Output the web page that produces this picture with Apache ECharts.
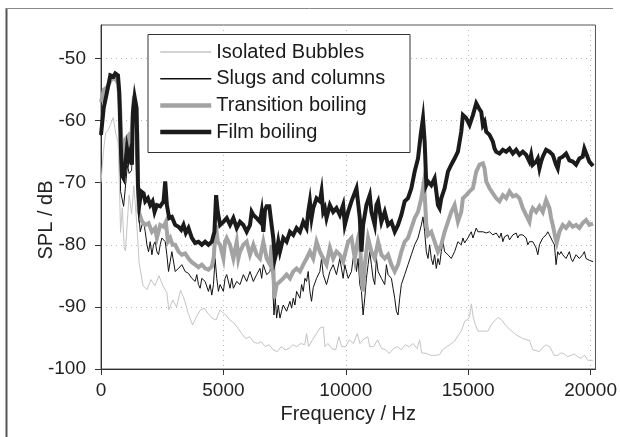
<!DOCTYPE html>
<html>
<head>
<meta charset="utf-8">
<script src="https://cdn.jsdelivr.net/npm/echarts@6/dist/echarts.min.js"></script>
<style>
html,body{margin:0;padding:0;background:#fff;}
#chart{width:620px;height:437px;}
</style>
</head>
<body>
<div id="chart"></div>
<script>
// ---- data (frequency in Hz, SPL in dB) ----
var xTicks = [0, 5000, 10000, 15000, 20000];
var yTicks = [-100, -90, -80, -70, -60, -50];
var seriesNames = ['Isolated Bubbles', 'Slugs and columns', 'Transition boiling', 'Film boiling'];

var isolatedBubbles = [[0,-70.0],[100,-65.0],[190,-62.0],[300,-61.5],[400,-60.5],[500,-59.5],[600,-62.0],[700,-63.5],[750,-70.0],[800,-78.0],[870,-74.0],[950,-80.5],[1000,-81.0],[1080,-76.0],[1150,-72.0],[1250,-75.0],[1340,-70.5],[1450,-76.0],[1560,-83.0],[1720,-86.6],[1880,-87.2],[2040,-85.6],[2200,-86.6],[2370,-85.0],[2530,-86.6],[2690,-87.7],[2770,-90.5],[2930,-88.9],[3090,-90.0],[3250,-87.3],[3410,-88.9],[3570,-91.1],[3740,-92.9],[3900,-91.6],[4060,-90.5],[4220,-90.2],[4380,-91.1],[4540,-91.8],[4700,-92.1],[4860,-90.5],[5100,-91.3],[5260,-92.1],[5430,-92.6],[5590,-93.4],[5750,-94.3],[5910,-95.1],[6070,-94.8],[6230,-95.6],[6390,-95.9],[6550,-95.6],[6710,-96.4],[6870,-96.1],[7030,-96.9],[7200,-97.2],[7360,-96.4],[7520,-96.9],[7680,-96.7],[7840,-96.1],[8000,-96.4],[8160,-95.9],[8320,-96.1],[8400,-94.3],[8480,-96.4],[8640,-95.3],[8800,-94.3],[8950,-93.4],[9080,-93.2],[9150,-96.4],[9270,-95.9],[9430,-96.7],[9590,-96.9],[9720,-94.8],[9830,-96.4],[9990,-96.4],[10150,-95.3],[10310,-95.9],[10470,-94.3],[10580,-95.9],[10700,-95.3],[10900,-94.8],[10980,-96.4],[11140,-96.4],[11300,-95.3],[11460,-96.7],[11620,-96.9],[11780,-97.5],[11950,-96.7],[12110,-96.4],[12270,-96.9],[12430,-96.1],[12590,-96.4],[12750,-95.9],[12910,-96.7],[13018,-95.3],[13100,-97.4],[13300,-97.5],[13470,-97.8],[13630,-97.8],[13833,-97.7],[13950,-96.9],[14100,-96.5],[14241,-96.1],[14450,-95.5],[14600,-94.5],[14722,-93.9],[14858,-92.3],[14990,-92.0],[15060,-91.5],[15130,-89.5],[15200,-91.5],[15270,-92.6],[15396,-93.9],[15600,-93.9],[15804,-93.9],[15950,-92.8],[16212,-91.7],[16350,-92.0],[16500,-92.8],[16688,-93.6],[16960,-94.5],[17230,-95.1],[17503,-95.4],[17639,-96.9],[17911,-97.2],[18050,-96.5],[18183,-96.1],[18350,-96.5],[18509,-97.8],[18650,-97.8],[18794,-97.4],[18930,-97.6],[19066,-98.0],[19200,-97.8],[19338,-97.6],[19470,-98.0],[19610,-98.3],[19750,-97.8],[19882,-98.6],[20100,-98.6]];

var slugsColumns = [[0,-62.5],[100,-58.5],[250,-55.5],[400,-53.0],[550,-53.5],[700,-54.0],[760,-60.0],[800,-71.4],[856,-72.5],[924,-73.8],[992,-70.9],[1080,-67.2],[1150,-68.5],[1250,-68.0],[1332,-57.2],[1400,-60.0],[1468,-71.4],[1536,-74.6],[1604,-77.9],[1672,-76.8],[1740,-76.3],[1808,-77.9],[1876,-80.0],[1943,-81.1],[2011,-79.5],[2079,-81.6],[2147,-80.0],[2215,-79.5],[2283,-81.1],[2351,-81.6],[2419,-80.0],[2487,-78.9],[2623,-79.5],[2691,-81.6],[2759,-84.3],[2827,-82.7],[2895,-81.1],[3031,-84.3],[3167,-83.8],[3302,-83.2],[3438,-84.3],[3574,-84.6],[3710,-85.4],[3846,-85.9],[3914,-84.8],[3982,-86.4],[4050,-87.0],[4118,-85.4],[4254,-85.9],[4390,-87.5],[4458,-86.4],[4526,-88.1],[4594,-86.4],[4661,-82.2],[4729,-85.4],[4797,-87.5],[4864,-86.4],[5000,-87.5],[5068,-85.4],[5136,-84.8],[5272,-87.0],[5340,-85.4],[5408,-87.0],[5544,-85.9],[5679,-86.4],[5815,-84.8],[5951,-85.9],[6087,-84.3],[6223,-85.9],[6359,-84.8],[6495,-83.8],[6563,-85.4],[6631,-83.2],[6767,-84.8],[6903,-84.3],[6970,-82.2],[7011,-86.4],[7066,-91.3],[7120,-88.6],[7174,-91.8],[7242,-89.7],[7310,-91.8],[7378,-90.7],[7446,-89.7],[7582,-90.7],[7718,-89.1],[7786,-90.2],[7854,-88.6],[7922,-89.7],[7990,-87.5],[8126,-88.6],[8194,-86.4],[8262,-87.5],[8330,-85.4],[8397,-85.9],[8465,-84.3],[8533,-87.5],[8601,-89.1],[8669,-86.9],[8805,-85.4],[8941,-84.3],[9009,-82.2],[9077,-84.8],[9213,-86.4],[9281,-85.4],[9349,-84.3],[9485,-83.2],[9620,-84.8],[9756,-82.2],[9892,-85.4],[9960,-83.2],[10096,-85.4],[10232,-84.3],[10300,-82.2],[10368,-81.1],[10436,-84.3],[10504,-82.2],[10572,-86.4],[10640,-87.5],[10707,-91.3],[10775,-88.6],[10843,-85.4],[10911,-83.2],[10979,-81.1],[11047,-83.2],[11115,-85.4],[11183,-86.4],[11251,-82.2],[11319,-84.3],[11455,-85.4],[11591,-86.4],[11659,-83.2],[11727,-84.8],[11863,-85.4],[11931,-87.0],[11999,-88.6],[12066,-90.7],[12134,-91.3],[12202,-88.6],[12270,-86.4],[12406,-84.8],[12542,-83.2],[12678,-81.6],[12814,-80.0],[12950,-78.9],[13086,-76.8],[13154,-75.5],[13222,-77.9],[13290,-81.1],[13358,-82.2],[13425,-80.0],[13493,-82.2],[13561,-83.2],[13629,-81.6],[13697,-83.8],[13765,-82.2],[13833,-83.2],[13901,-81.1],[13969,-79.5],[14037,-81.1],[14173,-81.6],[14309,-82.2],[14445,-81.1],[14581,-79.5],[14717,-80.0],[14785,-78.9],[14853,-79.7],[14989,-78.9],[15125,-77.9],[15193,-78.9],[15329,-77.3],[15397,-77.9],[15465,-78.1],[15601,-77.9],[15737,-78.1],[15872,-77.9],[16008,-78.4],[16144,-78.1],[16280,-78.9],[16348,-78.1],[16416,-79.5],[16484,-78.7],[16552,-78.9],[16620,-78.4],[16688,-79.2],[16824,-78.4],[16960,-78.1],[17028,-78.9],[17096,-78.4],[17231,-78.4],[17367,-78.9],[17435,-80.0],[17503,-79.5],[17639,-79.5],[17775,-80.5],[17843,-81.6],[17911,-80.0],[18047,-78.9],[18183,-78.4],[18251,-77.9],[18319,-78.4],[18455,-79.5],[18523,-80.0],[18590,-83.2],[18658,-81.1],[18726,-81.6],[18794,-81.1],[18862,-81.6],[18998,-82.2],[19134,-81.1],[19202,-82.2],[19270,-82.7],[19406,-81.6],[19542,-82.2],[19678,-81.6],[19746,-81.1],[19814,-82.2],[19950,-82.5],[20100,-82.7]];

var transitionBoiling = [[0,-57.0],[120,-55.0],[250,-54.6],[400,-53.5],[550,-53.0],[700,-54.0],[780,-58.0],[850,-65.0],[920,-67.5],[1000,-63.0],[1100,-62.5],[1200,-65.0],[1280,-65.0],[1330,-57.0],[1400,-57.5],[1480,-62.0],[1536,-74.6],[1672,-76.2],[1808,-76.8],[1943,-76.5],[2079,-77.9],[2215,-77.3],[2283,-78.9],[2419,-76.8],[2555,-77.1],[2650,-76.3],[2732,-79.5],[2827,-78.9],[2922,-80.0],[3031,-80.0],[3167,-81.1],[3302,-81.6],[3438,-81.4],[3574,-82.2],[3710,-82.8],[3846,-83.2],[3982,-83.6],[4118,-83.2],[4254,-83.8],[4390,-84.0],[4526,-83.5],[4607,-82.0],[4689,-76.8],[4770,-79.5],[4864,-80.0],[5000,-82.2],[5068,-79.5],[5136,-78.9],[5272,-80.0],[5408,-82.2],[5544,-79.5],[5611,-82.2],[5679,-81.1],[5815,-80.0],[5951,-79.5],[6087,-81.6],[6223,-80.0],[6359,-81.6],[6495,-82.2],[6631,-79.5],[6767,-82.2],[6903,-83.2],[6970,-80.0],[7038,-83.2],[7079,-88.6],[7174,-86.4],[7310,-85.9],[7446,-85.4],[7582,-84.8],[7718,-85.4],[7854,-84.3],[7990,-83.8],[8126,-84.3],[8262,-83.2],[8397,-82.2],[8533,-81.1],[8669,-82.2],[8805,-79.5],[8941,-81.1],[9077,-82.2],[9213,-83.2],[9349,-80.5],[9485,-82.2],[9620,-81.1],[9756,-81.6],[9892,-82.7],[9960,-81.6],[10096,-79.5],[10232,-78.9],[10368,-82.2],[10504,-78.9],[10572,-77.9],[10640,-85.4],[10707,-87.5],[10775,-83.2],[10911,-78.9],[11047,-81.1],[11183,-82.2],[11319,-79.5],[11455,-81.6],[11591,-82.2],[11727,-81.6],[11863,-83.2],[11999,-84.3],[12134,-83.2],[12270,-81.1],[12406,-79.5],[12542,-78.9],[12678,-77.3],[12814,-75.7],[12950,-74.7],[13086,-72.5],[13194,-69.8],[13290,-76.8],[13358,-78.4],[13493,-77.9],[13629,-79.5],[13765,-81.1],[13901,-80.0],[14037,-77.9],[14173,-76.3],[14309,-74.7],[14445,-73.6],[14581,-76.3],[14717,-74.7],[14785,-72.5],[14921,-72.0],[15057,-71.4],[15193,-70.9],[15329,-68.2],[15465,-67.1],[15601,-66.9],[15669,-67.7],[15737,-69.8],[15872,-70.9],[16008,-71.7],[16144,-72.5],[16280,-73.0],[16416,-72.0],[16552,-72.5],[16688,-71.4],[16824,-72.2],[16960,-72.0],[17096,-72.5],[17231,-74.1],[17367,-75.2],[17503,-76.3],[17571,-74.7],[17639,-74.1],[17775,-74.7],[17911,-73.8],[18047,-74.7],[18183,-72.8],[18319,-74.1],[18387,-75.7],[18455,-76.8],[18563,-78.9],[18618,-79.7],[18726,-77.9],[18862,-76.8],[18998,-77.3],[19134,-76.5],[19270,-77.1],[19406,-76.8],[19542,-77.3],[19678,-76.5],[19814,-76.0],[19950,-76.8],[20100,-76.6]];

var filmBoiling = [[0,-62.3],[109,-58.0],[245,-55.4],[381,-52.7],[516,-52.9],[584,-52.4],[693,-52.7],[747,-55.4],[802,-63.4],[856,-68.8],[924,-69.3],[992,-67.1],[1060,-64.5],[1128,-66.1],[1196,-65.0],[1264,-67.1],[1305,-58.6],[1373,-56.2],[1454,-58.0],[1509,-70.4],[1563,-73.6],[1644,-71.4],[1740,-71.7],[1808,-73.0],[1916,-72.5],[2011,-73.6],[2106,-73.0],[2188,-74.7],[2283,-73.6],[2419,-73.8],[2555,-73.0],[2623,-69.8],[2691,-73.6],[2786,-75.7],[2895,-75.5],[3031,-76.8],[3167,-77.1],[3275,-77.6],[3370,-76.8],[3465,-78.1],[3574,-77.3],[3710,-78.9],[3846,-79.7],[3982,-79.5],[4118,-80.0],[4254,-79.5],[4390,-80.0],[4526,-79.5],[4634,-77.9],[4702,-72.0],[4770,-74.7],[4865,-76.8],[5000,-76.3],[5136,-75.7],[5272,-76.8],[5408,-75.7],[5544,-77.3],[5679,-76.3],[5815,-76.8],[5951,-77.9],[6087,-76.8],[6155,-74.7],[6223,-75.2],[6359,-75.7],[6495,-76.3],[6563,-74.7],[6631,-77.9],[6699,-74.4],[6767,-73.8],[6875,-73.8],[6970,-76.8],[7038,-78.9],[7106,-82.2],[7174,-81.1],[7242,-79.5],[7310,-81.1],[7446,-78.9],[7582,-79.5],[7718,-77.9],[7854,-78.4],[7990,-77.3],[8126,-77.9],[8262,-76.3],[8397,-77.3],[8465,-74.7],[8533,-73.0],[8601,-75.7],[8669,-74.1],[8805,-72.5],[8941,-73.0],[9009,-71.4],[9077,-74.7],[9145,-74.1],[9213,-75.7],[9349,-73.6],[9485,-74.7],[9620,-74.1],[9756,-75.2],[9892,-73.6],[9960,-76.8],[10096,-74.7],[10232,-73.0],[10436,-70.9],[10572,-75.7],[10640,-81.1],[10707,-76.8],[10843,-73.6],[10979,-72.0],[11047,-74.7],[11183,-76.8],[11251,-73.6],[11319,-73.0],[11455,-76.3],[11591,-74.7],[11727,-76.8],[11863,-76.3],[11999,-77.9],[12134,-76.8],[12270,-75.2],[12406,-73.0],[12542,-72.5],[12678,-70.9],[12814,-68.2],[12950,-66.1],[13059,-62.3],[13154,-59.6],[13222,-63.4],[13290,-70.4],[13358,-69.8],[13493,-70.4],[13629,-69.3],[13697,-71.4],[13765,-73.6],[13833,-74.1],[13901,-72.5],[14037,-70.9],[14173,-68.2],[14309,-67.1],[14445,-66.1],[14581,-65.0],[14717,-61.8],[14785,-59.1],[14921,-59.6],[15057,-60.7],[15193,-59.1],[15329,-57.2],[15438,-58.0],[15533,-58.6],[15601,-60.7],[15669,-60.2],[15737,-61.8],[15804,-61.8],[15872,-62.3],[16008,-63.4],[16076,-64.5],[16144,-65.0],[16280,-65.3],[16416,-64.7],[16552,-65.0],[16688,-64.5],[16824,-65.3],[16960,-64.7],[17096,-65.5],[17231,-65.0],[17367,-65.5],[17503,-66.6],[17571,-65.5],[17639,-67.1],[17775,-66.6],[17843,-66.1],[17911,-67.7],[17979,-66.6],[18047,-65.8],[18183,-64.7],[18319,-65.0],[18455,-65.5],[18590,-67.1],[18658,-67.7],[18726,-66.1],[18862,-65.8],[18998,-65.3],[19134,-66.4],[19270,-66.6],[19406,-67.1],[19542,-66.1],[19678,-65.8],[19746,-64.5],[19814,-64.7],[19950,-66.6],[20100,-67.3]];

var seriesData = [isolatedBubbles, slugsColumns, transitionBoiling, filmBoiling];
var seriesColors = ['#c4c4c4', '#111111', '#a3a3a3', '#1b1b1b'];
var seriesWidths = [1, 1, 4, 4];

var FONT = '"Liberation Sans", Arial, sans-serif';
var chart = echarts.init(document.getElementById('chart'), null, {renderer: 'canvas'});

var series = seriesNames.map(function (name, i) {
  return {
    name: name,
    type: 'line',
    data: seriesData[i],
    showSymbol: false,
    symbol: 'none',
    silent: true,
    z: 2 + i,
    lineStyle: {color: seriesColors[i], width: seriesWidths[i], join: 'miter'},
    itemStyle: {color: seriesColors[i]}
  };
});

var legendData = seriesNames.map(function (name, i) {
  return {
    name: name,
    itemStyle: {opacity: 0},
    lineStyle: {color: seriesColors[i], width: seriesWidths[i] + 0.5}
  };
});

function plainNum(v) { return String(v); }

chart.setOption({
  animation: false,
  backgroundColor: '#ffffff',
  grid: {left: 101, right: 24, top: 25, bottom: 68, show: true, borderColor: '#555', borderWidth: 1, backgroundColor: 'transparent'},
  xAxis: {
    type: 'value', min: 0, max: 20200, interval: 5000,
    name: 'Frequency / Hz', nameLocation: 'middle', nameGap: 29,
    nameTextStyle: {fontFamily: FONT, fontSize: 20, color: '#222'},
    axisLine: {lineStyle: {color: '#333', width: 1}},
    axisTick: {show: true, inside: false, length: 6, lineStyle: {color: '#333'}, customValues: xTicks},
    axisLabel: {fontFamily: FONT, fontSize: 19, color: '#222', margin: 12, customValues: xTicks, formatter: plainNum},
    splitLine: {show: true, lineStyle: {color: '#b8b8b8', type: [1, 4], width: 1}}
  },
  yAxis: {
    type: 'value', min: -100, max: -44.6, interval: 10,
    axisLine: {show: true, lineStyle: {color: '#333', width: 1}},
    axisTick: {show: true, inside: false, length: 6, lineStyle: {color: '#333'}, customValues: yTicks},
    axisLabel: {fontFamily: FONT, fontSize: 19, color: '#222', margin: 15, customValues: yTicks, formatter: plainNum},
    splitLine: {show: true, lineStyle: {color: '#b8b8b8', type: [1, 4], width: 1}}
  },
  legend: {
    orient: 'vertical', left: 153, top: 37, z: 20,
    itemWidth: 51, itemHeight: 12, itemGap: 6.7,
    textStyle: {fontFamily: FONT, fontSize: 20, color: '#1a1a1a', lineHeight: 20},
    data: legendData,
    selectedMode: false
  },
  graphic: [
    {type: 'rect', z: 10, shape: {x: 148, y: 34.5, width: 262, height: 118}, style: {fill: '#fff', stroke: '#333', lineWidth: 1}},
    {type: 'text', z: 10, x: 46, y: 220, rotation: Math.PI / 2, style: {text: 'SPL / dB', fontFamily: FONT, fontSize: 20, fill: '#222', align: 'center', verticalAlign: 'middle'}},
    {type: 'line', z: 10, shape: {x1: 6.5, y1: 8, x2: 6.5, y2: 437}, style: {stroke: '#555', lineWidth: 2}},
    {type: 'line', z: 10, shape: {x1: 6, y1: 8.5, x2: 613, y2: 8.5}, style: {stroke: '#888', lineWidth: 1}}
  ],
  series: series
});
</script>
</body>
</html>
